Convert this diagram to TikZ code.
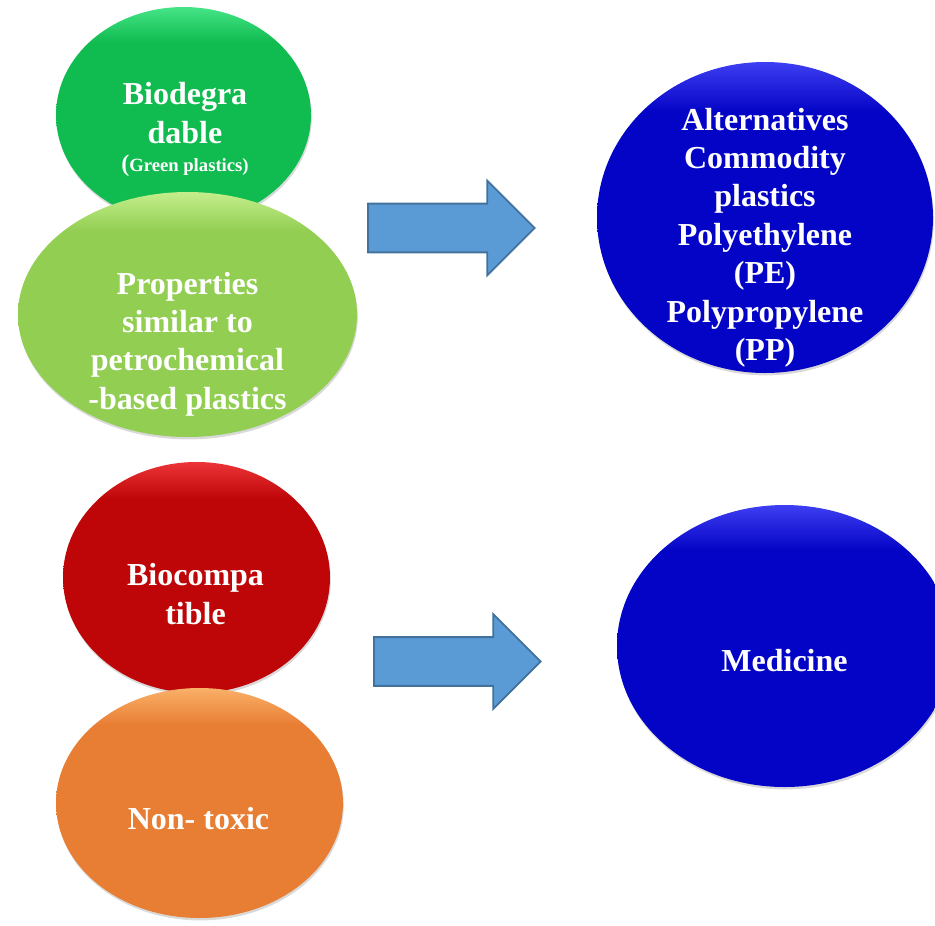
\documentclass[tikz,border=0pt]{standalone}
\usepackage{fontspec}
\setmainfont{Liberation Serif}
\usetikzlibrary{shapes.geometric, shapes.arrows, shadows}

\definecolor{greenMain}{RGB}{16,188,80}
\definecolor{greenRim}{RGB}{70,228,135}
\definecolor{limeMain}{RGB}{146,206,82}
\definecolor{limeRim}{RGB}{196,238,140}
\definecolor{redMain}{RGB}{190,6,8}
\definecolor{redRim}{RGB}{236,52,56}
\definecolor{orangeMain}{RGB}{232,126,52}
\definecolor{orangeRim}{RGB}{250,176,104}
\definecolor{blueMain}{RGB}{4,4,198}
\definecolor{blueRim}{RGB}{62,62,242}
\definecolor{arrowFill}{RGB}{91,155,213}
\definecolor{arrowLine}{RGB}{65,113,156}

% flat body, light rim at the top
\newcommand{\rimshade}[1]{%
  \pgfdeclareverticalshading{#1Shade}{100bp}{color(0bp)=(#1Main); color(67bp)=(#1Main); color(75bp)=(#1Rim); color(100bp)=(#1Rim)}}
\rimshade{green}
\rimshade{lime}
\rimshade{red}
\rimshade{orange}
\rimshade{blue}

\begin{document}
\begin{tikzpicture}[x=0.75pt, y=-0.75pt,
    bubble/.style={ellipse, inner sep=0pt, draw=none,
        drop shadow={shadow xshift=0.6pt, shadow yshift=-1.8pt, opacity=0.3}},
    tone/.style={shading=#1Shade},
    lbl/.style={text=white, align=center, font=\bfseries\fontsize{24}{28.8}\selectfont},
    bigarrow/.style={single arrow, anchor=tail, draw=arrowLine, fill=arrowFill, line width=1.4pt,
        inner xsep=0pt, inner ysep=17.6pt, text height=0pt, text depth=0pt,
        single arrow head extend=17.25pt, minimum height=125pt}]
    \clip (0,0) rectangle (935,925);
    % upper group: green plastics
    \node[bubble, tone=green, minimum width=191.25pt, minimum height=162pt] (bio) at (183.5,115) {};
    \node[bubble, tone=lime, minimum width=254.25pt, minimum height=183.75pt] (props) at (187.5,314.5) {};
    \node[lbl] (bioTxt) at (185,129.5) {Biodegra\\dable\\[-8pt]{\fontsize{18}{18}\selectfont(}{\fontsize{14}{16}\selectfont Green plastics)}};
    \node[lbl] (propsTxt) at (187.5,344) {Properties\\similar to\\petrochemical\\-based plastics};
    \node[bigarrow] (arrTop) at (367,228) {};
    \node[bubble, tone=blue, minimum width=252pt, minimum height=233.25pt] (alt) at (765,217.5) {};
    \node[lbl] (altTxt) at (765,237.5) {Alternatives\\Commodity\\plastics\\Polyethylene\\(PE)\\Polypropylene\\(PP)};
    % lower group: medicine
    \node[bubble, tone=red, minimum width=200.25pt, minimum height=173.25pt] (compat) at (196.5,577.5) {};
    \node[bubble, tone=orange, minimum width=215.25pt, minimum height=172.5pt] (tox) at (199.5,803) {};
    \node[lbl] (compatTxt) at (195.5,594) {Biocompa\\tible};
    \node[lbl] (toxTxt) at (198.5,819) {Non- toxic};
    \node[bigarrow] (arrBot) at (373,661.5) {};
    \node[bubble, tone=blue, minimum width=251.25pt, minimum height=211.5pt] (med) at (784.5,646) {};
    \node[lbl] (medTxt) at (784.5,661) {Medicine};
\end{tikzpicture}
\end{document}
